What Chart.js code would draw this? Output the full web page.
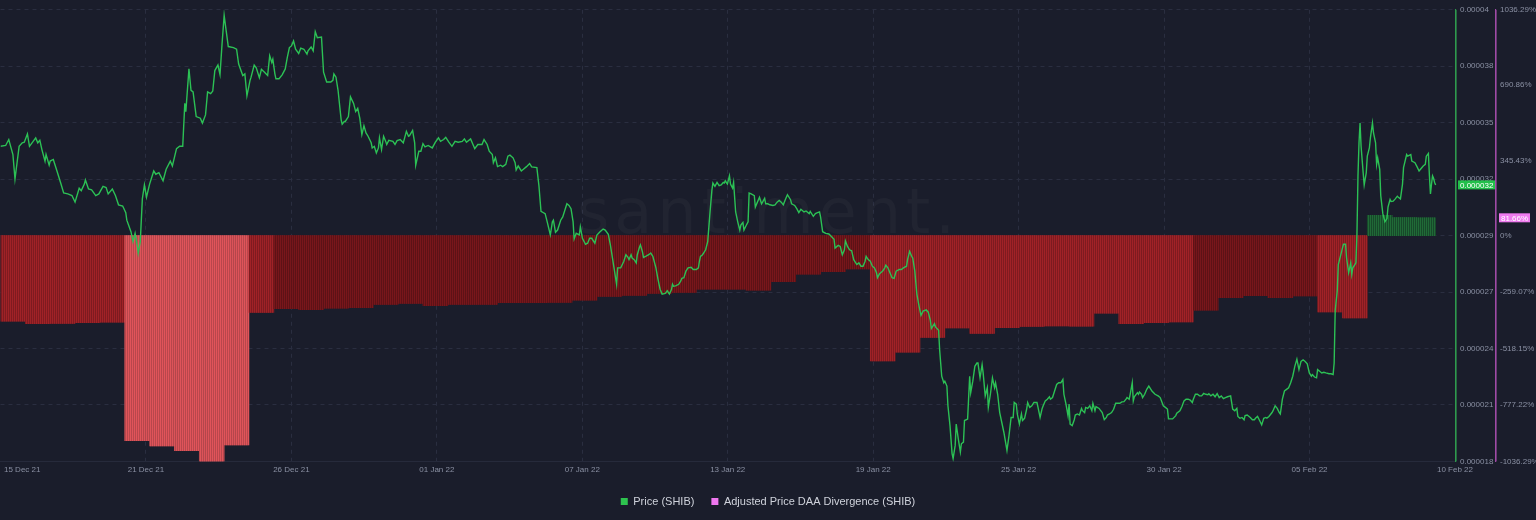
<!DOCTYPE html>
<html><head><meta charset="utf-8">
<script src="https://cdn.jsdelivr.net/npm/chart.js@4.4.1/dist/chart.umd.min.js"></script>
<style>html,body{margin:0;padding:0;background:#1a1d2b;overflow:hidden}#wrap{width:1536px;height:520px;position:relative}</style>
</head><body><div id="wrap"><canvas id="c"></canvas></div>
<script>
// ---------- data ----------
const xTickLabels = ['15 Dec 21','21 Dec 21','26 Dec 21','01 Jan 22','07 Jan 22','13 Jan 22','19 Jan 22','25 Jan 22','30 Jan 22','05 Feb 22','10 Feb 22'];
// price axis ticks (in 1e-6 USD)
const priceTicks = [18.4, 21.15, 23.9, 26.65, 29.4, 32.15, 34.9, 37.65, 40.4];
// divergence axis ticks (%)
const divTicks = [-1036.29, -777.22, -518.15, -259.07, 0, 345.43, 690.86, 1036.29];
// hours since 15 Dec 21 00:00
const priceHours = [
0,5,8,12,14,18,21,23,26,28, 31,34,36,38,40,43,44,47,48,51, 55,58,61,65,69,72,76,78,81,82,
85,88,92,95,99,102,104,108,111,114, 118,121,122,126,128,130,132,133,135,137, 139,141,144,148,150,153,157,160,164,166,
170,173,176,178,179,182,184,186,189,193, 195,198,200,203,205,207,210,212,214,216, 218,220,225,228,230,234,236,238,241,242,
245,247,250,252,255,258,259,260,262,263, 265,266,269,272,275,277,279,281,283,285, 288,290,293,296,297,300,302,304,306,310,
312,315,319,321,322,324,326,329,330,332, 333,336,338,341,343,345,347,349,351,353, 355,358,359,361,363,365,366,368,370,372,
373,375,379,381,383,386,389,392,394,395, 398,400,401,404,406,408,410,413,417,420, 423,425,428,430,433,436,439,442,446,448,
450,454,456,458,461,465,467,470,472,
475,476,478,480,483,485,488,490,492,495, 497,498,500,503,505,508,511,513,518,520, 522,526,528,531,533,534,536,538,541,543,
547,549,551,553,554,556,559,560,562,565, 567,569,571,574,576,579,582,584,587,589, 591,593,595,596,599,602,604,606,607,609,
610,612,614,615,617,618,620,621,623,626, 628,630,633,635,637,639,642,644,646,648, 649,650,652,655,657,658,660,662,664,667,
669,672,674,675,676,678,679,681,683,685, 687,688,690,692,694,696,698,699,700,702, 704,705,707,708,710,712,714,715,717,718,
720,722,723,725,728,729,731,733,735,736, 738,739,741,743,746,748,750,752,754,756, 758,760,763,764,767,769,771,773,776,778,
781,782,785,787,789,791,792,794,797,800, 802,805,806,809,811,813,815,816,818,820, 822,824,827,829,831,833,835,836,838,840,
842,844,846,847,849,852,854,855,857,859, 861,863,865,868,870,872,875,876,878,880, 881,883,885,887,889,891,894,896,898,899,
902,903,906,907,909,911,912,914,915,917, 919,920,922,923,925,927,928,930,
931,934,936,937,939,941,943,944,946,948, 949,951,953,954,956,958,960,961,963,965, 969,972,974,976,978,979,981,982,984,986,
987,989,991,992,994,996,998,1001,1002,1004, 1006,1007,1009,1011,1013,1014,1016,1018,1020,1022, 1024,1026,1027,1029,1031,1032,1033,1035,1037,1038,
1040,1042,1044,1045,1047,1048,1050,1052,1054,1055, 1057,1058,1061,1062,1064,1066,1068,1069,1071,1073, 1075,1077,1079,1081,1083,1085,1087,1088,1090,1091,
1093,1094,1095,1098,1099,1100,1102,1103,1105,1107, 1109,1111,1112,1115,1118,1120,1123,1125,1127,1128, 1130,1132,1135,1136,1139,1141,1143,1145,1147,1149,
1151,1152,1154,1156,1158,1160,1162,1164,1166,1167, 1169,1171,1173,1175,1177,1179,1181,1183,1185,1188, 1190,1192,1194,1195,1197,1199,1201,1202,1204,1207,
1209,1211,1212,1214,1216,1218,1220,1222,1223,1225, 1228,1229,1231,1233,1235,1236,1238,1240,1242,1244, 1246,1248,1250,1252,1254,1256,1258,1260,1262,1264,
1266,1267,1269,1271,1272,1274,1276,1278,1280,1283, 1285,1287,1288,1289,1291,1292,1294,1296,1297,1299, 1300,1302,1304,1305,1306,1308,1309,1310,1311,1312,
1313,1314,1316,1317,1319,1320,1322,1323,1325,1326, 1328,1329,1330,1332,1333,1335,1337,1339,1340,1342, 1343,1345,1347,1349,1350,1352,1354,1355,1358,1359,
1362,1363,1366,1368,1370,1372,1374,1376,1377,1379, 1380,1381,1382,1383,1384,1385,1386
];
// SHIB price in 1e-6 USD
const priceValues = [
33.75,33.79,34.08,33.35,32.15,33.75,33.92,33.95,34.35,33.75, 33.95,34.16,33.92,34.04,33.59,33.03,33.35,32.83,33.03,33.11, 32.47,31.99,31.48,31.43,31.35,31.03,31.71,31.59,31.91,32.11,
31.67,31.63,31.35,31.43,31.80,31.74,31.43,31.67,31.35,30.90, 30.84,30.52,30.15,29.59,29.11,29.51,28.95,28.55,29.11,31.19, 31.87,31.27,31.91,32.55,32.39,32.47,32.07,32.63,33.03,32.79,
33.64,33.75,33.75,35.84,35.44,37.52,36.48,36.40,35.20,35.12, 34.88,35.28,36.40,36.32,36.44,37.44,37.71,37.25,38.75,40.13, 39.36,38.61,38.56,38.48,37.76,37.20,37.28,36.21,36.96,37.12,
37.71,37.57,37.09,37.50,37.36,37.20,37.68,38.16,37.84,38.00, 37.28,37.04,37.04,37.23,37.52,38.08,38.56,38.64,38.88,38.48, 38.27,38.53,38.48,38.24,38.40,38.59,38.40,39.33,39.04,39.07,
37.36,36.88,36.88,36.96,37.28,37.12,36.48,35.04,34.83,34.96, 34.96,35.20,36.16,35.84,35.44,35.60,35.12,34.32,34.75,34.40, 34.24,33.92,33.67,33.75,33.43,33.67,34.16,33.59,34.24,33.99,
33.84,34.04,33.99,33.84,34.03,34.08,33.92,34.48,34.24,34.27, 34.52,33.92,32.83,33.51,33.51,33.88,33.72,33.79,33.67,33.95, 34.16,33.99,34.08,34.19,33.95,33.75,33.99,33.95,33.99,34.11,
33.95,34.11,33.87,33.64,33.84,33.84,34.08,33.84,33.51,
33.35,32.95,33.19,32.76,32.83,32.76,32.87,33.27,33.32,33.19, 32.95,32.60,32.79,32.55,32.63,32.76,32.91,32.75,32.71,31.83, 30.58,30.47,30.07,29.43,30.07,30.15,29.56,29.67,30.15,30.31,
30.95,30.87,30.71,30.07,29.24,29.51,29.43,29.83,29.27,28.98, 29.03,29.27,29.27,29.03,29.43,29.59,29.72,29.67,29.46,28.95, 28.31,27.67,27.03,27.83,27.83,28.15,28.47,28.34,28.23,28.47,
28.31,28.23,28.07,28.47,28.82,28.95,28.60,28.34,28.39,28.47, 28.55,28.39,27.83,27.27,26.79,26.55,26.58,26.71,26.55,26.77, 27.03,26.93,26.95,27.03,27.19,27.32,27.35,27.67,27.83,27.86,
27.75,27.75,27.83,28.15,28.39,28.47,28.55,28.71,29.11,30.39, 31.59,31.96,31.80,31.99,31.83,31.87,31.99,31.96,32.07,31.91, 32.31,31.91,31.71,31.99,30.55,30.07,29.67,29.91,30.04,29.67,
29.88,30.07,31.47,31.43,31.35,30.79,31.03,31.27,30.95,31.03, 31.22,30.95,30.95,30.90,30.87,30.90,31.03,31.11,31.03,30.90, 31.16,31.39,31.15,30.95,30.87,30.71,30.52,30.68,30.55,30.60,
30.47,30.58,30.34,30.47,30.52,30.55,30.31,29.59,29.51,29.48, 29.38,29.22,28.79,28.92,28.87,28.47,28.71,29.14,28.87,28.71, 28.66,28.23,27.99,28.07,27.91,27.91,28.15,28.39,28.23,28.15,
27.91,27.83,27.59,27.35,27.54,27.67,27.83,27.96,27.83,27.59, 27.35,27.32,27.67,27.75,27.75,27.83,27.91,28.23,28.63,28.39, 28.31,27.67,26.55,25.99,25.51,25.72,25.78,25.67,25.27,24.87,
25.11,24.95,24.79,23.83,22.55,22.23,22.31,22.07,21.11,20.14, 18.78,18.54,19.18,20.22,19.50,18.86,19.26,19.34,
20.39,20.46,22.55,21.75,22.31,23.03,23.19,23.19,22.47,23.11, 22.71,21.59,21.99,21.03,21.67,22.47,21.99,22.23,21.67,20.78, 19.82,18.94,19.67,20.54,20.54,21.27,21.19,20.71,20.22,20.71,
20.39,20.50,20.94,21.27,21.03,21.11,21.27,21.27,21.03,20.54, 20.98,21.11,21.35,21.43,21.55,21.43,21.51,21.83,22.15,22.23, 22.23,22.39,21.67,21.19,20.62,21.19,20.22,20.14,20.43,20.66,
20.71,20.66,20.98,20.87,20.78,21.03,20.98,21.11,20.87,21.23, 20.87,21.07,20.98,20.91,20.78,20.43,20.54,20.66,20.71,20.78, 20.94,21.23,21.23,21.23,21.30,21.31,21.43,21.51,21.43,21.67,
22.23,21.35,21.55,21.75,21.67,21.78,21.67,21.51,21.67,21.91, 22.07,21.91,21.83,21.67,21.59,21.51,21.11,21.03,20.95,20.47, 20.47,20.47,20.63,20.75,20.87,21.07,21.35,21.43,21.43,21.39,
21.27,21.43,21.67,21.67,21.59,21.59,21.71,21.67,21.65,21.70, 21.59,21.67,21.55,21.70,21.51,21.59,21.46,21.51,21.55,21.59, 20.95,20.87,20.98,20.59,20.50,20.54,20.43,20.63,20.66,20.54,
20.43,20.43,20.50,20.59,20.39,20.18,20.50,20.54,20.51,20.59, 20.78,20.87,21.11,20.98,20.78,20.71,21.43,21.83,21.91,21.99, 22.23,22.55,23.03,23.38,22.87,23.27,23.35,23.27,23.15,22.71,
22.55,22.63,22.51,22.47,22.87,22.79,22.71,22.74,22.71,22.67, 22.67,22.63,23.19,25.75,26.71,27.99,28.39,28.79,28.98,28.98, 28.31,27.59,28.07,27.51,27.83,27.99,28.07,29.43,32.31,33.92,
34.88,33.75,32.47,31.87,32.47,33.27,33.67,34.16,34.88,34.40, 33.92,32.87,33.19,32.63,31.35,30.47,30.07,30.23,30.79,31.16, 31.06,31.08,31.19,31.32,31.27,31.19,31.91,32.71,33.35,33.27,
33.35,33.03,32.95,32.76,32.55,32.67,32.79,32.87,33.27,33.40, 32.31,31.43,31.91,32.31,32.19,31.99,31.87
];
// Adjusted Price DAA Divergence (%), one value per day from 15 Dec 21
const divergenceDaily = [
-392.3,-404.6,-402.8,-400.0,-396.9,-941.3,-965.7,-986.5,-1036.29,-961.2,
-353.0,-334.9,-339.4,-333.5,-330.3,-315.4,-310.9,-321.3,-315.4,-315.4,
-307.7,-307.7,-306.4,-296.0,-279.2,-274.7,-265.6,-261.1,-246.2,-246.2,
-250.7,-211.3,-176.5,-166.1,-152.5,-574.7,-534.9,-467.0,-424.0,-448.9,
-422.7,-417.2,-414.1,-415.9,-356.1,-403.7,-400.0,-396.0,-342.6,-284.6,
-275.6,-285.1,-277.0,-350.3,-377.4,93.2,83.0,81.66
];

// ---------- styles ----------
const BG = '#1a1d2b';
const FONT = '"Liberation Sans", Arial, sans-serif';
const TICK = '#8a90a3';
const GRID = '#2a2e40';
const LINE_GREEN = '#2cc155';
const AXIS_GREEN = '#2f9a4d';
const AXIS_PURPLE = '#a04ba6';
const LEG_GREEN = '#2ec34f';
const LEG_PINK = '#ef77ef';

function stripe(a, b) {
  const cv = document.createElement('canvas');
  cv.width = 2; cv.height = 1;
  const g = cv.getContext('2d');
  g.fillStyle = a; g.fillRect(0, 0, 1, 1);
  g.fillStyle = b; g.fillRect(1, 0, 1, 1);
  return g.createPattern(cv, 'repeat');
}
const PAT = {
  light: stripe('#e0545a', '#b8474c'),
  medium: stripe('#a12227', '#7f1b20'),
  dark: stripe('#79161b', '#5d1216'),
  green: stripe('#206b37', '#17492a')
};
function barFill(v) {
  if (v > 0) return PAT.green;
  if (v <= -900) return PAT.light;
  if (v <= -345) return PAT.medium;
  return PAT.dark;
}
function fmtPrice(v) { return parseFloat((v * 1e-6).toFixed(6)).toString(); }
function fmtDiv(v) { return v === 0 ? '0%' : v + '%'; }

// ---------- build datasets ----------
const pricePoints = priceHours.map((h, i) => ({ x: h, y: priceValues[i] }));
const lastHour = priceHours[priceHours.length - 1];
const divBars = [];
for (let h = 0; h < lastHour; h++) divBars.push({ x: h + 0.5, y: divergenceDaily[Math.floor(h / 24)] });

const X_MAX = 1404.7;
const X_STEP = X_MAX / 10;
const FIRST_TICK = 21;

const plugin = {
  id: 'deco',
  beforeDraw(chart) {
    const c = chart.ctx;
    c.save(); c.fillStyle = BG; c.fillRect(0, 0, chart.width, chart.height); c.restore();
  },
  beforeDatasetsDraw(chart) {
    const c = chart.ctx;
    c.save();
    c.font = '62px "DejaVu Sans"';
    try { c.letterSpacing = '5px'; } catch (e) {}
    c.fillStyle = 'rgba(255,255,255,0.03)';
    c.textBaseline = 'alphabetic';
    c.fillText('santiment.', 577, 233);
    c.restore();
  },
  afterDraw(chart) {
    const c = chart.ctx;
    const yP = chart.scales.yPrice, yD = chart.scales.yDiv;
    // axis lines
    c.save();
    c.lineWidth = 1.6;
    c.strokeStyle = AXIS_GREEN;
    c.beginPath(); c.moveTo(yP.left + 0.8, yP.top); c.lineTo(yP.left + 0.8, yP.bottom); c.stroke();
    c.strokeStyle = AXIS_PURPLE;
    c.beginPath(); c.moveTo(yD.left + 0.8, yD.top); c.lineTo(yD.left + 0.8, yD.bottom); c.stroke();
    c.restore();
    // last value badges
    const lp = priceValues[priceValues.length - 1];
    const ld = divergenceDaily[divergenceDaily.length - 1];
    const py = yP.getPixelForValue(lp);
    const dy = yD.getPixelForValue(ld);
    c.save();
    c.font = '8px ' + FONT;
    c.textBaseline = 'middle';
    c.fillStyle = '#22bf4a';
    c.fillRect(yP.left + 3, py - 4.5, 37, 9);
    c.fillStyle = '#ffffff';
    c.fillText(fmtPrice(lp), yP.left + 5, py + 0.5);
    c.fillStyle = '#ee7bee';
    c.fillRect(yD.left + 4, dy - 4.5, 31, 9);
    c.fillStyle = '#ffffff';
    c.fillText(ld.toFixed(2) + '%', yD.left + 6, dy + 0.5);
    c.restore();
  }
};

Chart.defaults.font.family = FONT;
new Chart(document.getElementById('c'), {
  data: {
    datasets: [
      { type: 'line', label: 'Price (SHIB)', data: pricePoints, xAxisID: 'x', yAxisID: 'yPrice',
        borderColor: LINE_GREEN, borderWidth: 1.4, pointRadius: 0, tension: 0, order: 0 },
      { type: 'bar', label: 'Adjusted Price DAA Divergence (SHIB)', data: divBars, xAxisID: 'x', yAxisID: 'yDiv',
        backgroundColor: (ctx) => barFill(ctx.raw ? ctx.raw.y : 0), borderWidth: 0,
        barPercentage: 1, categoryPercentage: 1, order: 1 }
    ]
  },
  options: {
    responsive: true, maintainAspectRatio: false, animation: false,
    layout: { padding: { top: 5, right: 0, bottom: 3, left: 0 } },
    plugins: {
      tooltip: { enabled: false },
      legend: {
        position: 'bottom',
        labels: {
          color: '#cfd2db', font: { size: 11, family: FONT }, boxWidth: 7, boxHeight: 7, padding: 17,
          generateLabels: () => [
            { text: 'Price (SHIB)', fillStyle: LEG_GREEN, strokeStyle: LEG_GREEN, lineWidth: 0, hidden: false, datasetIndex: 0, fontColor: '#cfd2db' },
            { text: 'Adjusted Price DAA Divergence (SHIB)', fillStyle: LEG_PINK, strokeStyle: LEG_PINK, lineWidth: 0, hidden: false, datasetIndex: 1, fontColor: '#cfd2db' }
          ]
        }
      }
    },
    scales: {
      x: {
        type: 'linear', position: 'bottom', min: 0, max: X_MAX, offset: false,
        afterBuildTicks: (s) => { s.ticks = xTickLabels.map((l, i) => ({ value: i === 0 ? FIRST_TICK : i * X_STEP })); },
        ticks: { autoSkip: false, maxRotation: 0, color: TICK, font: { size: 8 }, padding: 4,
          callback: (v, i) => xTickLabels[i] },
        grid: { offset: false, color: (c) => (c.index === 0 || c.index === 10) ? 'rgba(0,0,0,0)' : GRID, drawTicks: false, lineWidth: 1 },
        border: { display: true, color: '#262a3b', dash: [4, 4] }
      },
      yPrice: {
        type: 'linear', position: 'right', weight: 0,
        min: priceTicks[0], max: priceTicks[priceTicks.length - 1],
        afterBuildTicks: (s) => { s.ticks = priceTicks.map(v => ({ value: v })); },
        afterFit: (s) => { s.width = 40; },
        ticks: { autoSkip: false, color: TICK, font: { size: 8 }, padding: 5, callback: (v) => fmtPrice(v) },
        grid: { color: GRID, drawTicks: false, lineWidth: 1 },
        border: { display: true, color: AXIS_GREEN, width: 1, dash: [4, 4] }
      },
      yDiv: {
        type: 'linear', position: 'right', weight: 1,
        min: divTicks[0], max: divTicks[divTicks.length - 1],
        afterBuildTicks: (s) => { s.ticks = divTicks.map(v => ({ value: v })); },
        afterFit: (s) => { s.width = 41; },
        ticks: { autoSkip: false, color: TICK, font: { size: 8 }, padding: 5, callback: (v) => fmtDiv(v) },
        grid: { display: false, drawOnChartArea: false, drawTicks: false },
        border: { display: true, color: AXIS_PURPLE, width: 1 }
      }
    }
  },
  plugins: [plugin]
});
</script></body></html>
